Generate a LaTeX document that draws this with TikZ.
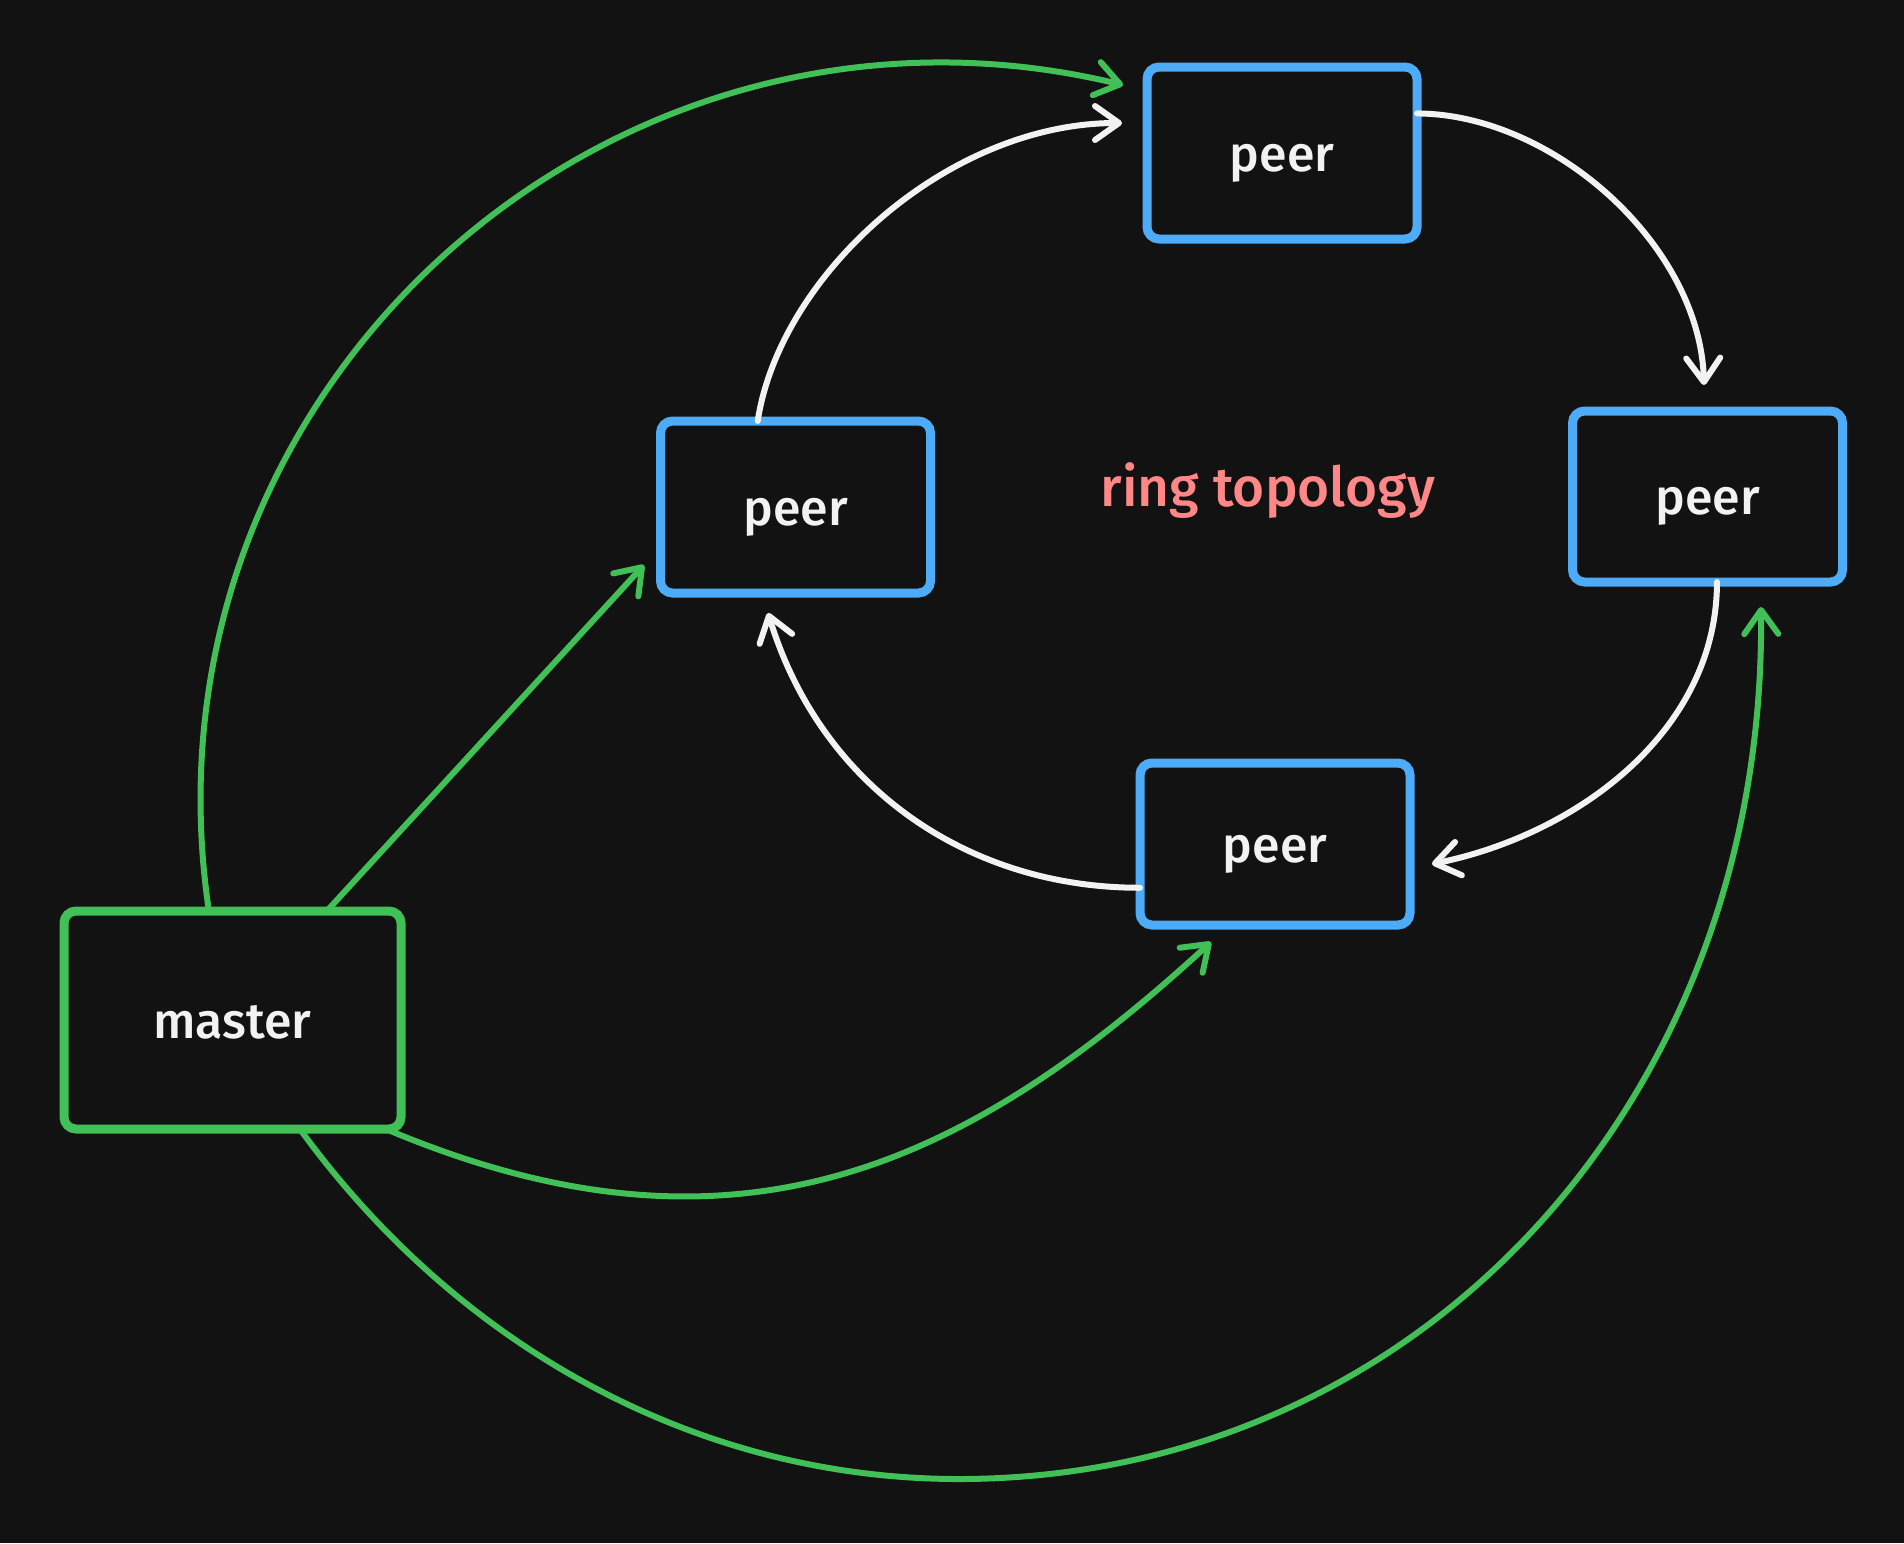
\documentclass[tikz,border=0pt]{standalone}
\usepackage{fontspec}
\setmainfont{Fira Sans}[UprightFont=* Medium]
\usetikzlibrary{arrows.meta,calc}
\definecolor{bg}{HTML}{121212}
\definecolor{peerblue}{HTML}{4DABF7}
\definecolor{mgreen}{HTML}{40C057}
\definecolor{salmon}{HTML}{FF8787}
\definecolor{ink}{HTML}{F2F2F2}
\begin{document}
\begin{tikzpicture}[x=0.5pt,y=-0.5pt,
  box/.style={draw, line width=4.5pt, rounded corners=6pt, fill=bg, text=ink,
    font=\fontsize{25}{30}\selectfont, outer sep=0pt, inner sep=0pt,
    text height=18pt, text depth=0pt},
  peerbox/.style={box, draw=peerblue, minimum width=135pt, minimum height=86pt},
  masterbox/.style={box, draw=mgreen, minimum width=168.5pt, minimum height=109pt},
  link/.style={line width=3pt, line cap=round, line join=round,
    -{Straight Barb[length=12pt,width=17pt,round]}},
  glink/.style={link, draw=mgreen},
  wlink/.style={link, draw=ink},
  lbl/.style={text=salmon, font=\fontsize{27.5}{32}\selectfont, inner sep=0pt,
    text height=16pt, text depth=0pt}
]
\fill[bg] (0,0) rectangle (1904,1543);
\useasboundingbox (0,0) rectangle (1904,1543);

% nodes
\node[peerbox] (top) at (1282,153) {peer};
\node[peerbox] (left) at (795.5,507) {peer};
\node[peerbox, minimum height=85.5pt] (right) at (1707.5,496.5) {peer};
\node[peerbox, minimum height=81pt] (bottom) at (1275,844) {peer};
\node[masterbox] (master) at (232.5,1020) {master};
\node[lbl] (label) at (1268,490) {ring topology};

% free ends (arrow tips)
\coordinate (t1) at (1123,85);
\coordinate (t2) at (644,565);
\coordinate (t3) at (1211,942);
\coordinate (t4) at (1761,607);
\coordinate (w1) at (1122,123);
\coordinate (w2) at (1704,385);
\coordinate (w3) at (1432,864);
\coordinate (w4) at (768,613);

% green links from master
\draw[glink] ($(master.north west)!0.43!(master.north east)$)
  .. controls (131,389) and (610,-39) .. (t1);
\draw[glink] ($(master.north west)!0.78!(master.north east)$) -- (t2);
\draw[glink] ($(master.south west)!0.955!(master.south east)$)
  .. controls (736,1277) and (967,1166) .. (t3);
\draw[glink] ($(master.south west)!0.70!(master.south east)$)
  .. controls (456,1344) and (694,1479) .. (959,1479)
  .. controls (1416,1479) and (1766,1104) .. (t4);

% white ring links
\draw[wlink] ($(left.north west)!0.36!(left.north east)$)
  .. controls (780,275) and (947,123) .. (w1);
\draw[wlink] ($(top.north east)!0.27!(top.south east)$)
  .. controls (1553,114) and (1700,245) .. (w2);
\draw[wlink] ($(right.south west)!0.535!(right.south east)$)
  .. controls (1717,730) and (1579,834) .. (w3);
\draw[wlink] ($(bottom.north west)!0.77!(bottom.south west)$)
  .. controls (971,888) and (822,790) .. (w4);
\end{tikzpicture}
\end{document}
